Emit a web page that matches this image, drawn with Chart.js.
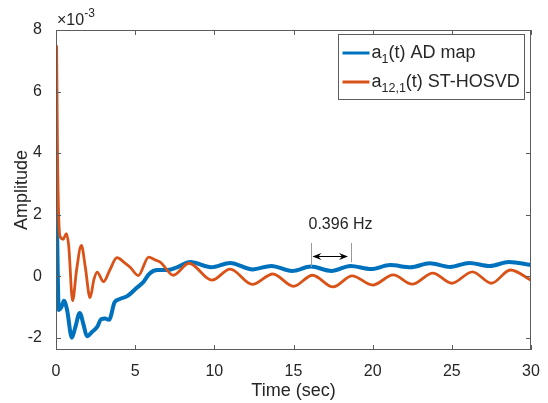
<!DOCTYPE html>
<html lang="en">
<head>
  <title>Amplitude vs time</title>
  <meta charset="UTF-8">
  <script src="https://cdn.jsdelivr.net/npm/chart.js"></script>
  <style>
    body { margin: 0; background: #fff; overflow: hidden; }
  </style>
</head>
<body>
  <canvas id="ampChart" width="548" height="403"></canvas>

  <script>
    // amplitudes in units of 1e-3
    const blueTime = [0.02, 0.18, 0.35, 0.5, 0.7, 1.0, 1.2, 1.5, 1.75, 1.95, 2.3, 2.6, 2.85, 3.1, 3.35, 3.7, 4.0, 4.5, 5.1, 5.5, 5.9, 6.4, 7.0, 7.6,
      8.5, 9.8, 11.0, 12.4, 13.6, 14.9, 16.1, 17.4, 18.6, 19.9, 21.1, 22.4, 23.6, 24.9, 26.1, 27.4, 28.6, 30.0];
    const blueAmp = [3.0, -1.1, -1.0, -0.8, -1.1, -2.0, -1.7, -1.2, -1.6, -1.95, -1.8, -1.65, -1.4, -1.38, -1.42, -0.85, -0.75, -0.65, -0.38, -0.2, 0.08, 0.2, 0.2, 0.28,
      0.46, 0.29, 0.43, 0.22, 0.33, 0.17, 0.31, 0.17, 0.33, 0.23, 0.36, 0.29, 0.42, 0.3, 0.43, 0.33, 0.46, 0.36];

    const orangeTime = [0.04, 0.1, 0.25, 0.45, 0.65, 0.8, 1.05, 1.3, 1.6, 1.85, 2.15, 2.4, 2.6, 3.0, 3.4, 3.85, 4.3, 4.7, 5.2, 5.85, 6.3, 6.6, 7.4,
      8.4, 9.85, 11.0, 12.4, 13.7, 15.0, 16.2, 17.5, 18.7, 20.0, 21.3, 22.5, 23.8, 25.0, 26.3, 27.5, 28.7, 30.0];
    const orangeAmp = [7.5, 3.8, 1.3, 1.2, 1.38, 1.0, -0.8, 0.2, 1.0, 0.3, -0.7, -0.1, 0.13, -0.18, 0.2, 0.6, 0.45, 0.28, 0.02, 0.62, 0.52, 0.45, 0.03,
      0.42, -0.13, 0.23, -0.27, 0.07, -0.33, 0.03, -0.35, 0.01, -0.29, 0.04, -0.26, 0.1, -0.23, 0.14, -0.23, 0.2, -0.13];

    const xTicks = [0, 5, 10, 15, 20, 25, 30];
    const yTicks = [-2, 0, 2, 4, 6, 8];

    // frequency marker: two guide lines one period apart
    const markX = [16.1, 18.6];
    const markTop = 1.08;
    const markBottom = [0.3, 0.45];
    const markArrowY = 0.65;
    const markLabel = '0.396 Hz';
    const markLabelPos = [17.97, 1.66];

    const BLUE = '#0072BD';
    const ORANGE = '#D95319';
    const AXIS = '#5c5c5c';
    const TEXT = '#262626';
    const FONT = "'Liberation Sans', Arial, sans-serif";

    function pts(t, v) { return t.map((x, i) => ({ x: x, y: v[i] })); }

    // axes box with inward ticks, exponent, legend and the frequency marker
    const decorations = {
      id: 'decorations',
      afterDraw(chart) {
        const ctx = chart.ctx;
        const a = chart.chartArea;
        const xs = chart.scales.x, ys = chart.scales.y;
        ctx.save();

        // box + ticks
        ctx.strokeStyle = AXIS;
        ctx.lineWidth = 1;
        ctx.strokeRect(a.left + 0.5, a.top + 0.5, a.right - a.left - 1, a.bottom - a.top - 1);
        ctx.beginPath();
        xTicks.forEach(v => {
          const px = Math.round(xs.getPixelForValue(v)) + 0.5;
          ctx.moveTo(px, a.bottom); ctx.lineTo(px, a.bottom - 5);
          ctx.moveTo(px, a.top); ctx.lineTo(px, a.top + 5);
        });
        yTicks.forEach(v => {
          const py = Math.round(ys.getPixelForValue(v)) + 0.5;
          ctx.moveTo(a.left, py); ctx.lineTo(a.left + 5, py);
          ctx.moveTo(a.right, py); ctx.lineTo(a.right - 5, py);
        });
        ctx.stroke();

        // x10^-3 exponent label
        ctx.fillStyle = TEXT;
        ctx.textBaseline = 'middle';
        ctx.textAlign = 'left';
        ctx.font = '16px ' + FONT;
        ctx.fillText('\u00d710', a.left + 1, a.top - 9);
        const w10 = ctx.measureText('\u00d710').width;
        ctx.font = '12px ' + FONT;
        ctx.fillText('-3', a.left + 1 + w10, a.top - 16);

        // frequency marker
        const x1 = xs.getPixelForValue(markX[0]), x2 = xs.getPixelForValue(markX[1]);
        const yt = ys.getPixelForValue(markTop);
        ctx.strokeStyle = '#9a9a9a';
        ctx.beginPath();
        ctx.moveTo(Math.round(x1) + 0.5, yt); ctx.lineTo(Math.round(x1) + 0.5, ys.getPixelForValue(markBottom[0]));
        ctx.moveTo(Math.round(x2) + 0.5, yt); ctx.lineTo(Math.round(x2) + 0.5, ys.getPixelForValue(markBottom[1]));
        ctx.stroke();

        const ay = Math.round(ys.getPixelForValue(markArrowY)) + 0.5;
        const l = x1 + 1.5, r = x2 - 2.5;
        ctx.strokeStyle = '#000';
        ctx.fillStyle = '#000';
        ctx.beginPath();
        ctx.moveTo(l + 4, ay); ctx.lineTo(r - 4, ay);
        ctx.stroke();
        [[l, 1], [r, -1]].forEach(([tip, d]) => {
          ctx.beginPath();
          ctx.moveTo(tip, ay);
          ctx.lineTo(tip + d * 9, ay - 3.5);
          ctx.lineTo(tip + d * 6, ay);
          ctx.lineTo(tip + d * 9, ay + 3.5);
          ctx.closePath();
          ctx.fill();
        });

        ctx.fillStyle = TEXT;
        ctx.textAlign = 'center';
        ctx.font = '16px ' + FONT;
        ctx.fillText(markLabel, xs.getPixelForValue(markLabelPos[0]), ys.getPixelForValue(markLabelPos[1]));

        // legend
        const bl = 338.5, bt = a.top + 4.5, br = a.right - 6.5, bb = a.top + 69.5;
        ctx.fillStyle = '#fff';
        ctx.fillRect(bl, bt, br - bl, bb - bt);
        ctx.strokeStyle = AXIS;
        ctx.strokeRect(bl, bt, br - bl, bb - bt);

        const rows = [
          { color: BLUE, sub: '1', rest: '(t) AD map', y: a.top + 23 },
          { color: ORANGE, sub: '12,1', rest: '(t) ST-HOSVD', y: a.top + 52 }
        ];
        rows.forEach(row => {
          ctx.strokeStyle = row.color;
          ctx.lineWidth = 3;
          ctx.beginPath();
          ctx.moveTo(bl + 4, row.y); ctx.lineTo(bl + 31, row.y);
          ctx.stroke();

          ctx.fillStyle = TEXT;
          ctx.textAlign = 'left';
          let tx = bl + 33;
          ctx.font = '18px ' + FONT;
          ctx.fillText('a', tx, row.y);
          tx += ctx.measureText('a').width;
          ctx.font = '12.5px ' + FONT;
          ctx.fillText(row.sub, tx, row.y + 7);
          tx += ctx.measureText(row.sub).width;
          ctx.font = '18px ' + FONT;
          ctx.fillText(row.rest, tx, row.y);
        });

        ctx.restore();
      }
    };

    new Chart(document.getElementById('ampChart'), {
      type: 'line',
      data: {
        datasets: [
          {
            label: 'a1(t) AD map',
            data: pts(blueTime, blueAmp),
            borderColor: BLUE,
            borderWidth: 4,
            pointRadius: 0,
            cubicInterpolationMode: 'monotone',
            borderJoinStyle: 'round',
            order: 1
          },
          {
            label: 'a12,1(t) ST-HOSVD',
            data: pts(orangeTime, orangeAmp),
            borderColor: ORANGE,
            borderWidth: 2.8,
            pointRadius: 0,
            cubicInterpolationMode: 'monotone',
            borderJoinStyle: 'round',
            order: 0
          }
        ]
      },
      options: {
        responsive: false,
        animation: false,
        layout: { padding: { top: 30, right: 17, left: 0, bottom: 0 } },
        plugins: { legend: { display: false }, tooltip: { enabled: false } },
        scales: {
          x: {
            type: 'linear',
            min: 0,
            max: 30,
            grid: { display: false },
            border: { display: false },
            afterBuildTicks: s => { s.ticks = xTicks.map(v => ({ value: v })); },
            afterFit: s => { s.height = 53; },
            ticks: { padding: 4, color: TEXT, maxRotation: 0, autoSkip: false, font: { family: FONT, size: 16 } },
            title: { display: true, text: 'Time (sec)', color: TEXT, padding: { top: 0, bottom: 1 }, font: { family: FONT, size: 18 } }
          },
          y: {
            type: 'linear',
            min: -2.4,
            max: 8,
            grid: { display: false },
            border: { display: false },
            afterBuildTicks: s => { s.ticks = yTicks.map(v => ({ value: v })); },
            afterFit: s => { s.width = 56; },
            ticks: { padding: 6, color: TEXT, font: { family: FONT, size: 16 } },
            title: { display: true, text: 'Amplitude', color: TEXT, padding: { top: 11, bottom: 4 }, font: { family: FONT, size: 18 } }
          }
        }
      },
      plugins: [decorations]
    });
  </script>
</body>
</html>
